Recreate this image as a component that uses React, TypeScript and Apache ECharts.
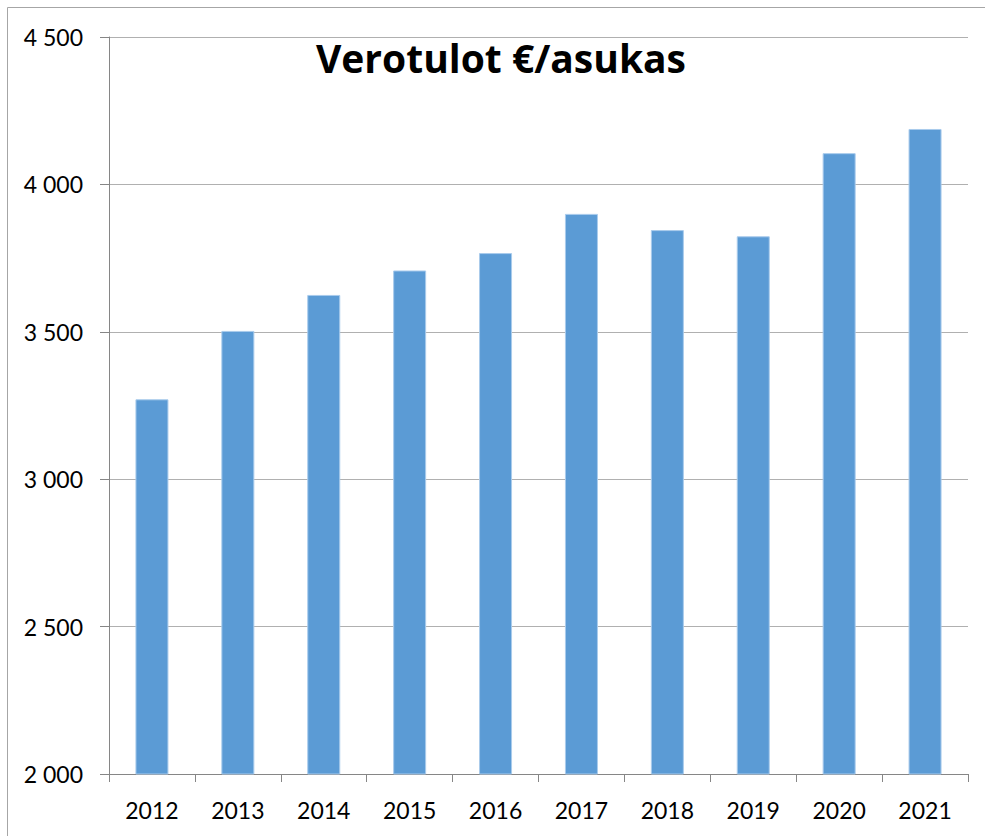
import React, { useEffect, useRef } from "react";
import * as echarts from "echarts";

const TITLE = "Verotulot €/asukas";
const years = ["2012", "2013", "2014", "2015", "2016", "2017", "2018", "2019", "2020", "2021"];
const values = [3271, 3503, 3625, 3708, 3767, 3900, 3845, 3824, 4106, 4188];
const yMin = 2000;
const yMax = 4500;
const yStep = 500;

const fmt = (v: number) => {
  const s = String(Math.round(v));
  return s.replace(/\B(?=(\d{3})+(?!\d))/g, " ");
};

export default function App() {
  const ref = useRef<HTMLDivElement>(null);
  useEffect(() => {
    document.body.style.margin = "0";
    const chart = echarts.init(ref.current!, null, { renderer: "svg" });
    const font = "Lato, 'Open Sans', sans-serif";
    chart.setOption({
      animation: false,
      backgroundColor: "#ffffff",
      grid: { left: 109, top: 37, right: 17, bottom: 62, containLabel: false },
      graphic: [
        {
          type: "rect",
          shape: { x: 7.5, y: 7.5, width: 1100, height: 1000 },
          style: { fill: "none", stroke: "#a6a6a6", lineWidth: 1 },
          silent: true,
        },
        {
          type: "text",
          x: 501,
          y: 57,
          style: {
            text: TITLE,
            font: `bold 39px 'Open Sans', sans-serif`,
            fill: "#000000",
            textAlign: "center",
            textVerticalAlign: "middle",
          },
          z: 10,
        },
      ],
      xAxis: {
        type: "category",
        data: years,
        axisLine: { lineStyle: { color: "#868686", width: 1 } },
        axisTick: { show: true, length: 8, alignWithLabel: false, lineStyle: { color: "#868686" } },
        axisLabel: { color: "#000000", fontFamily: font, fontSize: 23, margin: 24 },
      },
      yAxis: {
        type: "value",
        min: yMin,
        max: yMax,
        interval: yStep,
        axisLine: { show: true, lineStyle: { color: "#868686", width: 1 } },
        axisTick: { show: true, length: 9, lineStyle: { color: "#868686" } },
        axisLabel: {
          color: "#000000",
          fontFamily: font,
          fontSize: 23,
          margin: 26,
          formatter: (v: number) => fmt(v),
        },
        splitLine: { show: true, lineStyle: { color: "#b0b0b0", width: 1 } },
      },
      series: [
        {
          type: "bar",
          data: values,
          barWidth: 33,
          itemStyle: { color: "#5b9bd5", borderColor: "#a9cbec", borderWidth: 1 },
        },
      ],
    });
    return () => chart.dispose();
  }, []);
  return <div ref={ref} style={{ width: 985, height: 836 }} />;
}
